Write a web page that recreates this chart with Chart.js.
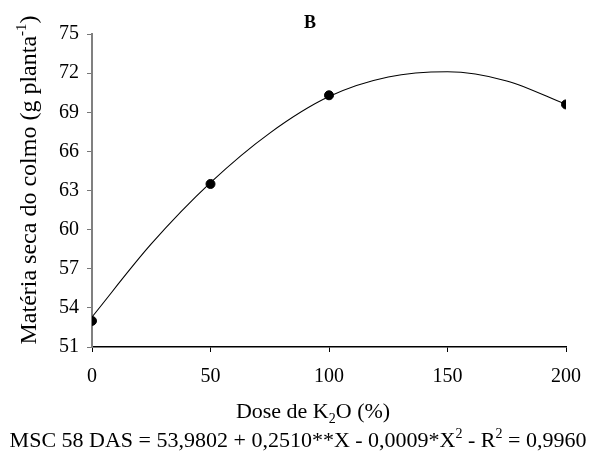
<!DOCTYPE html>
<html>
<head>
<meta charset="utf-8">
<script src="https://cdn.jsdelivr.net/npm/chart.js@4/dist/chart.umd.min.js"></script>
<style>
  html, body { margin: 0; padding: 0; background: #fff; }
  #wrap { width: 594px; height: 457px; }
</style>
</head>
<body>
<div id="wrap"><canvas id="chart" width="594" height="457"></canvas></div>
<script>
// Observed doses and dry matter values
const doses = [0, 50, 100, 200];
const observed = [53.0, 63.5, 70.3, 69.6];

// Fitted curve
const curveDoses = [0, 25, 50, 75, 100, 125, 150, 175, 200];
const curveValues = [53.3, 58.9, 63.6, 67.4, 70.2, 71.7, 72.1, 71.4, 69.6];

const xTicks = [0, 50, 100, 150, 200];
const yTicks = [51, 54, 57, 60, 63, 66, 69, 72, 75];

const SERIF = '"Liberation Serif", "DejaVu Serif", serif';

// Draws a run of text pieces, some raised or lowered, centred on x
function drawRich(ctx, parts, cx, baseY, size) {
    const small = Math.round(size * 0.62);
    let total = 0;
    parts.forEach(p => {
        ctx.font = (p.sup || p.sub ? small : size) + 'px ' + SERIF;
        p.w = ctx.measureText(p.t).width;
        total += p.w;
    });
    let x = cx - total / 2;
    ctx.textAlign = 'left';
    ctx.textBaseline = 'alphabetic';
    parts.forEach(p => {
        ctx.font = (p.sup || p.sub ? small : size) + 'px ' + SERIF;
        let y = baseY;
        if (p.sup) y -= size * 0.42;
        if (p.sub) y += size * 0.22;
        ctx.fillText(p.t, x, y);
        x += p.w;
    });
}

const labelsPlugin = {
    id: 'labels',
    afterDraw(chart) {
        const ctx = chart.ctx;
        ctx.save();
        ctx.fillStyle = '#000';

        // panel letter
        ctx.font = 'bold 18px ' + SERIF;
        ctx.textAlign = 'center';
        ctx.textBaseline = 'alphabetic';
        ctx.fillText('B', 310, 28);

        // x axis title
        drawRich(ctx, [
            { t: 'Dose de K' }, { t: '2', sub: true }, { t: 'O (%)' }
        ], 313, 418, 22);

        // regression equation
        drawRich(ctx, [
            { t: 'MSC 58 DAS = 53,9802 + 0,2510**X - 0,0009*X' },
            { t: '2', sup: true },
            { t: ' - R' },
            { t: '2', sup: true },
            { t: ' = 0,9960' }
        ], 298, 447, 22);

        // y axis title, rotated
        ctx.translate(36, 180);
        ctx.rotate(-Math.PI / 2);
        drawRich(ctx, [
            { t: 'Matéria seca do colmo (g planta' },
            { t: '-1', sup: true },
            { t: ')' }
        ], 0, 0, 24);
        ctx.restore();
    }
};

new Chart(document.getElementById('chart'), {
    type: 'scatter',
    data: {
        datasets: [
            {
                label: 'Observado',
                data: doses.map((d, i) => ({ x: d, y: observed[i] })),
                showLine: false,
                pointRadius: 4.5,
                pointBackgroundColor: '#000',
                pointBorderColor: '#000',
                order: 0
            },
            {
                label: 'Ajuste',
                data: curveDoses.map((d, i) => ({ x: d, y: curveValues[i] })),
                showLine: true,
                pointRadius: 0,
                borderColor: '#000',
                borderWidth: 1.1,
                cubicInterpolationMode: 'monotone',
                order: 1
            }
        ]
    },
    options: {
        responsive: false,
        animation: false,
        layout: { padding: { left: 50, top: 34, right: 27, bottom: 70 } },
        plugins: {
            legend: { display: false },
            tooltip: { enabled: false }
        },
        scales: {
            x: {
                type: 'linear',
                min: 0,
                max: 200,
                afterBuildTicks: axis => { axis.ticks = xTicks.map(v => ({ value: v })); },
                afterFit: axis => { axis.height = 40; },
                ticks: {
                    color: '#000',
                    padding: 13,
                    font: { family: SERIF, size: 20 }
                },
                grid: { drawOnChartArea: false, tickLength: 5, color: '#000' },
                border: { color: '#000', width: 1.5 }
            },
            y: {
                type: 'linear',
                min: 51,
                max: 75,
                afterBuildTicks: axis => { axis.ticks = yTicks.map(v => ({ value: v })); },
                afterFit: axis => { axis.width = 42; },
                ticks: {
                    color: '#000',
                    padding: 8,
                    font: { family: SERIF, size: 20 }
                },
                grid: { drawOnChartArea: false, tickLength: 5, color: '#777' },
                border: { color: '#808080', width: 2 }
            }
        }
    },
    plugins: [labelsPlugin]
});
</script>
</body>
</html>
